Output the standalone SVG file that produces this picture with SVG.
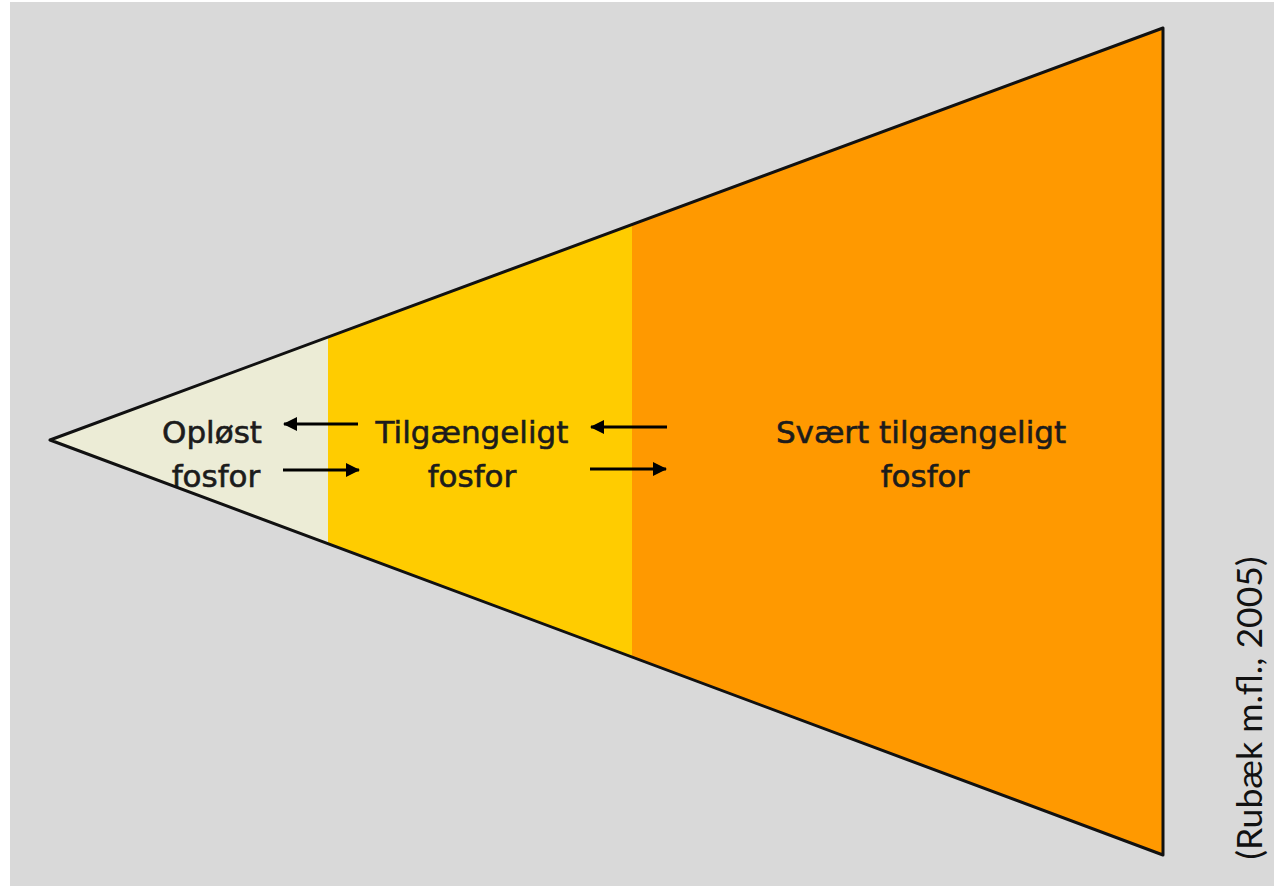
<svg xmlns="http://www.w3.org/2000/svg" width="1274" height="886" viewBox="0 0 1274 886">
<style>
.lbl{font-family:"DejaVu Sans",sans-serif;font-size:31px;fill:#1c1c1c;stroke:#1c1c1c;stroke-width:0.6;text-anchor:middle}
.arr{stroke:#000;stroke-width:3;fill:none}
</style>
<defs>
<marker id="ah" viewBox="0 0 14 14" refX="13" refY="7" markerWidth="14" markerHeight="14" markerUnits="userSpaceOnUse" orient="auto">
<path d="M0,0 L14,7 L0,14 Z" fill="#000"/>
</marker>
</defs>
<rect x="0" y="0" width="1274" height="886" fill="#ffffff"/>
<rect x="10" y="2" width="1264" height="884" fill="#d9d9d9"/>
<g id="zone-oplost">
<polygon points="50,440 328,337 328,543.6" fill="#ececd6"/>
<text class="lbl" x="212" y="443">Opløst</text>
<text class="lbl" x="216" y="487">fosfor</text>
</g>
<g id="zone-tilgaengeligt">
<polygon points="328,337 632,224.6 632,657 328,543.6" fill="#ffcc00"/>
<text class="lbl" x="472" y="443">Tilgængeligt</text>
<text class="lbl" x="472" y="487">fosfor</text>
</g>
<g id="zone-svaert">
<polygon points="632,224.6 1163,28 1163,855 632,657" fill="#ff9900"/>
<text class="lbl" x="921" y="443">Svært tilgængeligt</text>
<text class="lbl" x="925" y="487">fosfor</text>
</g>
<g id="outline">
<polygon points="50,440 1163,28 1163,855" fill="none" stroke="#111" stroke-width="3" stroke-linejoin="round"/>
</g>
<g id="connectors">
<line class="arr" x1="358" y1="424" x2="284" y2="424" marker-end="url(#ah)"/>
<line class="arr" x1="283" y1="470" x2="359" y2="470" marker-end="url(#ah)"/>
<line class="arr" x1="667" y1="427" x2="591" y2="427" marker-end="url(#ah)"/>
<line class="arr" x1="590" y1="469" x2="666" y2="469" marker-end="url(#ah)"/>
</g>
<g id="citation">
<text transform="translate(1262,708) rotate(-90)" font-family="Lato,'Open Sans',sans-serif" font-size="34" fill="#111" text-anchor="middle" textLength="303" lengthAdjust="spacingAndGlyphs">(Rubæk m.fl., 2005)</text>
</g>
</svg>
